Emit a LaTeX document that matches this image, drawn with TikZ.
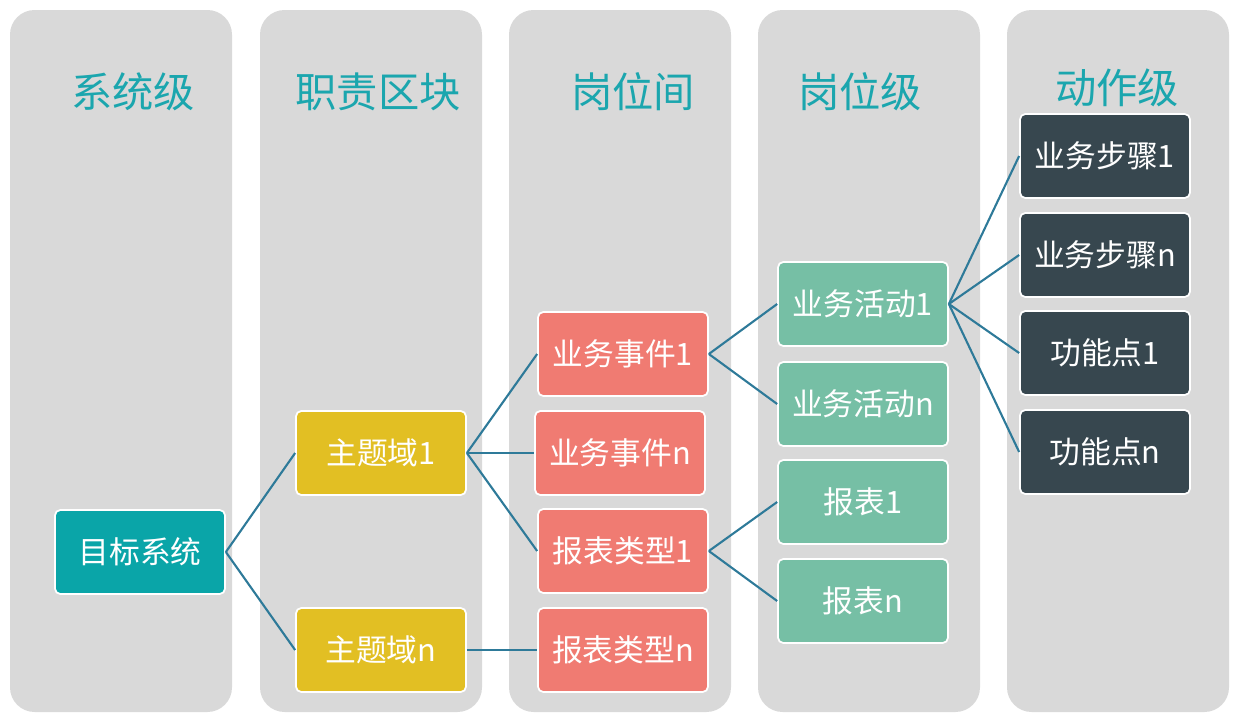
\documentclass[tikz,border=0pt]{standalone}
\usepackage{fontspec}
\setmainfont{Noto Sans CJK SC}
\usetikzlibrary{positioning}
\definecolor{colbg}{HTML}{D9D9D9}
\definecolor{coltitle}{HTML}{1BA6AE}
\definecolor{colsys}{HTML}{0AA5A8}
\definecolor{coldom}{HTML}{E2BF23}
\definecolor{colevt}{HTML}{F07B72}
\definecolor{colact}{HTML}{76BFA5}
\definecolor{colstep}{HTML}{37474F}
\definecolor{colline}{HTML}{2E7A99}
\tikzset{
  lane/.style={
    fill=colbg,
    rounded corners=14pt
    },
  title/.style={
    text=coltitle,
    font=\fontsize{23.5}{26}\selectfont
    },
  item/.style={
    rectangle,
    rounded corners=3pt,
    minimum width=3.4cm,
    minimum height=1.68cm,
    inner xsep=1pt,
    align=center,
    draw=white,
    line width=1pt,
    text=white,
    font=\fontsize{17.5}{20}\selectfont
    },
  link/.style={colline, line width=1.2pt}
}
\begin{document}
\begin{tikzpicture}[x=0.02cm, y=-0.02cm]
\useasboundingbox (0,0) rectangle (1241,727);
% lanes
\foreach \xl in {10,260,509,758,1007}
  \fill[lane] (\xl,10) rectangle +(222,702);
\node[title] at (133,92) {系统级};
\node[title] at (378,92) {职责区块};
\node[title] at (633,92) {岗位间};
\node[title] at (860,92) {岗位级};
\node[title] at (1117,88) {动作级};
% nodes
\node (sys) [item, fill=colsys] at (140,552) {目标系统};
\node (dom1) [item, fill=coldom] at (381,453) {主题域1};
\node (domn) [item, fill=coldom] at (381,650) {主题域n};
\node (evt1) [item, fill=colevt] at (623,354) {业务事件1};
\node (evtn) [item, fill=colevt] at (620,453) {业务事件n};
\node (rtp1) [item, fill=colevt] at (623,551) {报表类型1};
\node (rtpn) [item, fill=colevt] at (623,650) {报表类型n};
\node (act1) [item, fill=colact] at (863,304) {业务活动1};
\node (actn) [item, fill=colact] at (863,404) {业务活动n};
\node (rep1) [item, fill=colact] at (863,502) {报表1};
\node (repn) [item, fill=colact] at (863,601) {报表n};
\node (stp1) [item, fill=colstep] at (1105,156) {业务步骤1};
\node (stpn) [item, fill=colstep] at (1105,255) {业务步骤n};
\node (fun1) [item, fill=colstep] at (1105,353) {功能点1};
\node (funn) [item, fill=colstep] at (1105,452) {功能点n};
% links
\draw[link] (sys.east) -- (dom1.west);
\draw[link] (sys.east) -- (domn.west);
\draw[link] (dom1.east) -- (evt1.west);
\draw[link] (dom1.east) -- (evtn.west);
\draw[link] (dom1.east) -- (rtp1.west);
\draw[link] (domn.east) -- (rtpn.west);
\draw[link] (evt1.east) -- (act1.west);
\draw[link] (evt1.east) -- (actn.west);
\draw[link] (rtp1.east) -- (rep1.west);
\draw[link] (rtp1.east) -- (repn.west);
\draw[link] (act1.east) -- (stp1.west);
\draw[link] (act1.east) -- (stpn.west);
\draw[link] (act1.east) -- (fun1.west);
\draw[link] (act1.east) -- (funn.west);
\end{tikzpicture}
\end{document}
